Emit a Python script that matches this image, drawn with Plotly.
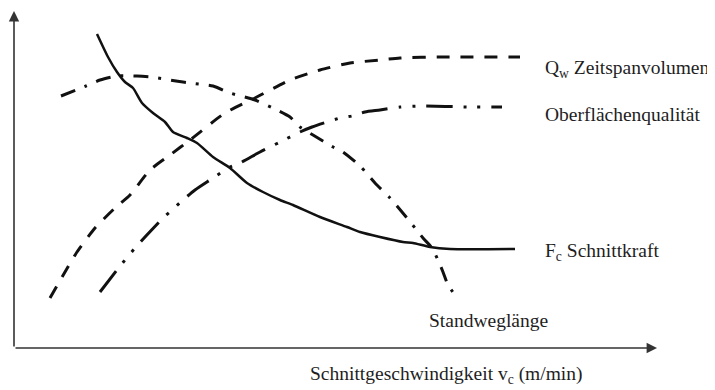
import plotly.graph_objects as go

# Values (arbitrary units: cutting speed vs. relative magnitude)
fc_x = [83, 94, 103, 111, 119, 128, 139, 151, 159, 173, 183, 199, 216, 233, 249, 266, 279, 306, 333, 346, 366, 389, 399, 416, 436, 501]
fc_y = [314, 291, 276, 266, 260, 245, 235, 226, 216, 210, 205, 191, 180, 165, 156, 148, 143, 131, 121, 116, 111, 106, 105, 101, 99, 99]

qw_x = [36, 51, 63, 81, 101, 116, 136, 156, 176, 211, 241, 276, 306, 336, 366, 386, 426, 506]
qw_y = [50, 76, 96, 120, 140, 153, 178, 193, 208, 235, 250, 268, 278, 285, 288, 290, 291, 291]

sw_x = [47, 72, 86, 103, 123, 138, 162, 176, 199, 216, 241, 263, 276, 286, 299, 319, 329, 346, 361, 376, 393, 401, 409, 418, 424, 429, 434, 441]
sw_y = [252, 262, 268, 272, 272, 271, 267, 265, 262, 255, 248, 238, 231, 221, 213, 201, 196, 182, 165, 150, 130, 120, 110, 100, 88, 76, 63, 53]

oq_x = [86, 103, 111, 121, 131, 149, 158, 169, 181, 196, 216, 226, 246, 266, 286, 298, 326, 338, 351, 366, 386, 406, 456, 488]
oq_y = [56, 78, 88, 100, 111, 130, 138, 148, 158, 168, 181, 185, 196, 206, 216, 221, 230, 232, 236, 238, 241, 242, 241, 241]

labels = ["Q<sub>w</sub> Zeitspanvolumen", "Oberflächenqualität", "F<sub>c</sub> Schnittkraft", "Standweglänge"]
label_x = [529, 529, 529, 413]
label_y = [279, 234, 96, 28]
x_title = "Schnittgeschwindigkeit v<sub>c</sub> (m/min)"

x_max = 643
y_max = 337

ink = "#111111"
font = dict(family="Liberation Serif, Times New Roman, serif", size=19.5, color="#1e1e1e")

fig = go.Figure()
fig.add_trace(go.Scatter(x=qw_x, y=qw_y, mode="lines",
                         line=dict(color=ink, width=3, dash="13px,11px", shape="spline", smoothing=0.6)))
fig.add_trace(go.Scatter(x=sw_x, y=sw_y, mode="lines",
                         line=dict(color=ink, width=3, dash="15px,10px,3px,10px", shape="spline", smoothing=0.6)))
fig.add_trace(go.Scatter(x=oq_x, y=oq_y, mode="lines",
                         line=dict(color=ink, width=3, dash="26px,11px,3px,11px,3px,11px", shape="spline", smoothing=0.6)))
fig.add_trace(go.Scatter(x=fc_x, y=fc_y, mode="lines",
                         line=dict(color=ink, width=2.5, shape="spline", smoothing=0.6)))

# axes with arrows
fig.add_annotation(x=x_max, y=0, ax=0, ay=0, xref="x", yref="y", axref="x", ayref="y",
                   showarrow=True, arrowhead=2, arrowsize=1.3, arrowwidth=1.6, arrowcolor="#333333", text="")
fig.add_annotation(x=0, y=y_max, ax=0, ay=0, xref="x", yref="y", axref="x", ayref="y",
                   showarrow=True, arrowhead=2, arrowsize=1.3, arrowwidth=1.6, arrowcolor="#333333", text="")

for t, lx, ly in zip(labels, label_x, label_y):
    fig.add_annotation(x=lx, y=ly, xref="x", yref="y", text=t, showarrow=False,
                       xanchor="left", yanchor="middle", font=font)

fig.add_annotation(x=294, y=-27, xref="x", yref="y", text=x_title, showarrow=False,
                   xanchor="left", yanchor="middle", font=font)

# the page body has an 8px margin, so the figure is sized to end at the window's edge
fig.update_layout(width=707, height=382, margin=dict(l=0, r=0, t=0, b=0),
                  paper_bgcolor="white", plot_bgcolor="white", showlegend=False)
fig.update_xaxes(range=[-6, 701], visible=False)
fig.update_yaxes(range=[-42, 340], visible=False)

fig.write_html("out.html")
